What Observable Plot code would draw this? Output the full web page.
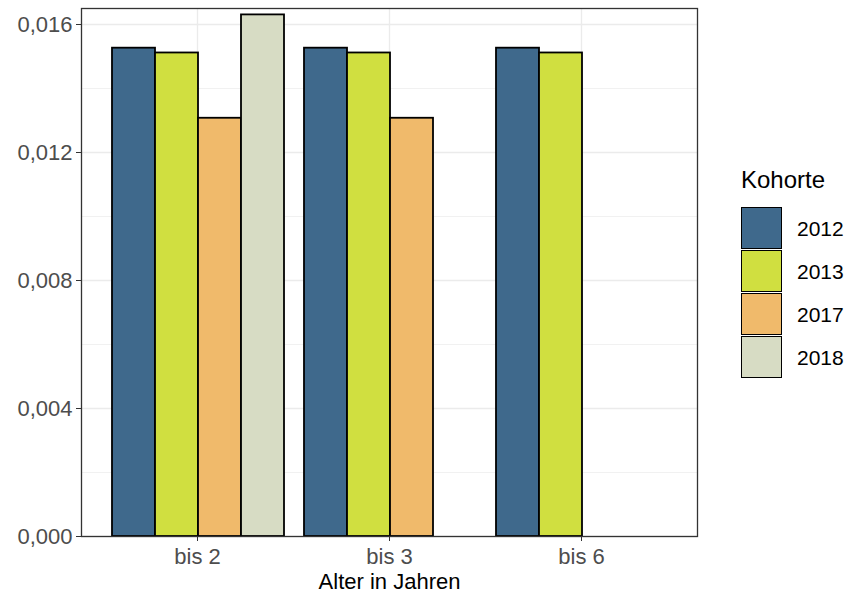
<!DOCTYPE html>
<html><head><meta charset="utf-8">
<script src="https://cdn.jsdelivr.net/npm/d3@7"></script>
<script src="https://cdn.jsdelivr.net/npm/@observablehq/plot@0.6"></script>
<style>
body{margin:0;background:#fff;font-family:"Liberation Sans",Arial,sans-serif;}
#wrap{position:relative;width:849px;height:597px;overflow:hidden;}
#bg,#fg{position:absolute;left:0;top:0;}
.lg{position:absolute;white-space:nowrap;}
.key{position:absolute;box-sizing:border-box;border:1.7px solid #000;width:41px;height:42px;}
</style></head><body>
<div id="wrap"><div id="bg"></div><div id="fg"></div><div id="legend"></div></div>
<script>
const alter = ["bis 2", "bis 3", "bis 6"];
const kohorten = ["2012", "2013", "2017", "2018"];
const werte2012 = [0.01526, 0.01526, 0.01526];
const werte2013 = [0.01511, 0.01511, 0.01511];
const werte2017 = [0.01307, 0.01307, null];
const werte2018 = [0.01630, null, null];
const farben = ["#3F698C", "#D0DF40", "#F0BA6B", "#D7DCC4"];
const yMajor = [0, 0.004, 0.008, 0.012, 0.016];
const yMinor = [0.002, 0.006, 0.010, 0.014];
const xTitel = "Alter in Jahren";
const legendTitel = "Kohorte";

const serien = [werte2012, werte2013, werte2017, werte2018];
const data = [];
kohorten.forEach((k, i) => serien[i].forEach((v, j) => {
  if (v != null) data.push({Alter: alter[j], Kohorte: k, Wert: v});
}));

const fmt = d => d3.format(".3f")(d).replace(".", ",");
const font = '"Liberation Sans", Arial, sans-serif';
const dims = {width: 700, height: 597, marginLeft: 81, marginRight: 3, marginTop: 8, marginBottom: 61};
const yScale = {domain: [0, 0.0165]};

// background: grid, axes
const bg = Plot.plot({
  ...dims,
  style: {fontFamily: font, fontSize: "22px", background: "transparent", overflow: "visible"},
  x: {type: "point", domain: alter, padding: 0.6, axis: null},
  y: {...yScale, axis: null},
  marks: [
    Plot.ruleY(yMinor, {stroke: "#EBEBEB", strokeWidth: 0.7}),
    Plot.ruleY(yMajor, {stroke: "#EBEBEB", strokeWidth: 1.3}),
    Plot.ruleX(alter, {stroke: "#EBEBEB", strokeWidth: 1.3}),
    Plot.axisY(yMajor, {tickFormat: fmt, tickSize: 5, tickPadding: 4, stroke: "#333333", fill: "#4D4D4D", label: null, fontSize: 22}),
    Plot.axisX({anchor: "bottom", tickSize: 5, tickPadding: 7, stroke: "#333333", fill: "#4D4D4D", label: null, fontSize: 22}),
    Plot.text([xTitel], {frameAnchor: "bottom", lineAnchor: "bottom", dy: 52, fill: "#000", fontSize: 22})
  ]
});
document.getElementById("bg").appendChild(bg);

// foreground: dodged bars via facets
const fg = Plot.plot({
  ...dims,
  style: {fontFamily: font, fontSize: "22px", background: "transparent", overflow: "visible"},
  fx: {domain: alter, paddingInner: 0.1, paddingOuter: 0.15, axis: null},
  x: {domain: kohorten, padding: 0, axis: null},
  y: {...yScale, axis: null},
  color: {domain: kohorten, range: farben},
  marks: [
    Plot.barY(data, {fx: "Alter", x: "Kohorte", y: "Wert", fill: "Kohorte", stroke: "#000", strokeWidth: 1.8})
  ]
});
document.getElementById("fg").appendChild(fg);

// panel border on top
const border = Plot.plot({
  ...dims,
  style: {background: "transparent"},
  x: {domain: alter, axis: null},
  y: {...yScale, axis: null},
  marks: [Plot.frame({stroke: "#333333", strokeWidth: 1.3})]
});
border.style.position = "absolute";
border.style.left = "0px";
border.style.top = "0px";
document.getElementById("fg").appendChild(border);

const lg = document.getElementById("legend");
const t = document.createElement("div");
t.className = "lg";
t.textContent = legendTitel;
t.style.cssText = "left:741px;top:168px;font-size:24px;line-height:24px;color:#000;";
lg.appendChild(t);
kohorten.forEach((k, i) => {
  const top = 207 + i * 43;
  const key = document.createElement("div");
  key.className = "key";
  key.style.left = "741px";
  key.style.top = top + "px";
  key.style.background = farben[i];
  lg.appendChild(key);
  const lab = document.createElement("div");
  lab.className = "lg";
  lab.textContent = k;
  lab.style.cssText = `left:797px;top:${top + 11}px;font-size:21px;line-height:21px;color:#000;`;
  lg.appendChild(lab);
});
</script>
</body></html>
